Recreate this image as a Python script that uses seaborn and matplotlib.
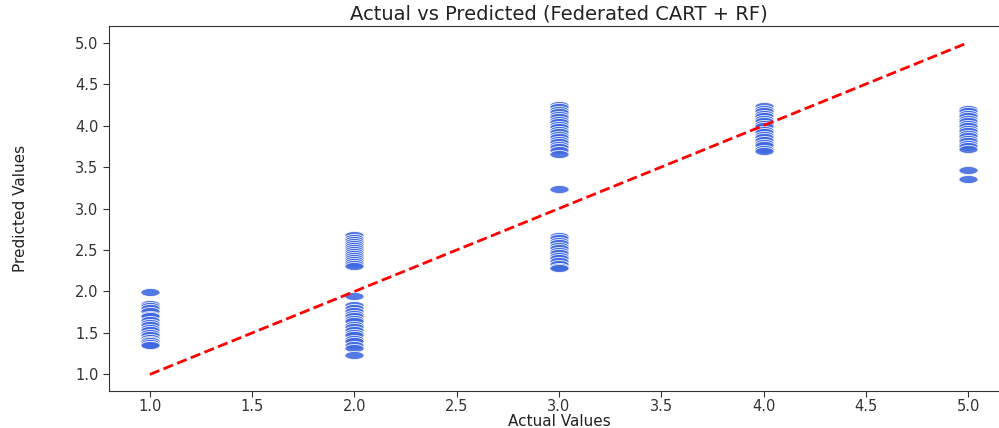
import numpy as np
import pandas as pd
import seaborn as sns
import matplotlib.pyplot as plt
from matplotlib.path import Path

# actual class values and the predicted values
pred_1 = [1.99, 1.85, 1.82, 1.80, 1.76, 1.72, 1.70, 1.66, 1.62, 1.60, 1.56,
          1.54, 1.50, 1.47, 1.44, 1.42, 1.40, 1.38, 1.36, 1.35]
pred_2 = [2.68, 2.65, 2.62, 2.60, 2.57, 2.55, 2.52, 2.50, 2.47, 2.45, 2.43,
          2.40, 2.38, 2.35, 2.33, 2.31,
          1.95, 1.84, 1.80, 1.77, 1.73, 1.70, 1.67, 1.64, 1.60, 1.57, 1.53,
          1.50, 1.47, 1.43, 1.40, 1.36, 1.32, 1.23]
pred_3 = [4.25, 4.22, 4.19, 4.16, 4.13, 4.10, 4.07, 4.04, 4.01, 3.98, 3.95,
          3.92, 3.89, 3.86, 3.83, 3.80, 3.77, 3.74, 3.70, 3.66,
          3.23,
          2.67, 2.64, 2.61, 2.58, 2.55, 2.52, 2.49, 2.46, 2.43, 2.40, 2.37,
          2.33, 2.30, 2.28]
pred_4 = [4.23, 4.20, 4.17, 4.14, 4.11, 4.08, 4.05, 4.02, 3.99, 3.95, 3.92,
          3.89, 3.86, 3.82, 3.79, 3.76, 3.72, 3.69]
pred_5 = [4.20, 4.17, 4.14, 4.11, 4.08, 4.05, 4.02, 3.99, 3.96, 3.93, 3.90,
          3.87, 3.84, 3.81, 3.78, 3.75, 3.72, 3.47, 3.36]

groups = {1.0: pred_1, 2.0: pred_2, 3.0: pred_3, 4.0: pred_4, 5.0: pred_5}
df = pd.DataFrame([(a, p) for a, ps in groups.items() for p in ps],
                  columns=['actual', 'predicted'])

# the reference shows squashed, wide markers
t = np.linspace(0, 2 * np.pi, 40)
ellipse = Path(np.column_stack([np.cos(t), 0.42 * np.sin(t)]), closed=True)

fig = plt.figure(figsize=(9.99, 4.28), dpi=100)
ax = fig.add_axes([0.109, 0.0864, 0.901, 0.8528])

sns.scatterplot(data=df, x='actual', y='predicted', ax=ax,
                color='royalblue', alpha=0.9, marker=ellipse, s=190,
                edgecolor='white', linewidth=0.6)

lo, hi = df['actual'].min(), df['actual'].max()
sns.lineplot(x=[lo, hi], y=[lo, hi], ax=ax, color='red',
             linestyle='--', linewidth=2)

ax.set_xlim(0.8, 5.2)
ax.set_ylim(0.8, 5.2)
ax.set_xticks(np.arange(1.0, 5.01, 0.5))
ax.set_yticks(np.arange(1.0, 5.01, 0.5))
ax.tick_params(labelsize=10.5, colors='#333333', length=4)
ax.tick_params(axis='x', pad=2)
for sp in ax.spines.values():
    sp.set_color('#333333')
ax.spines['right'].set_visible(False)

ax.set_title('Actual vs Predicted (Federated CART + RF)', fontsize=14,
             color='#222222', pad=5)
ax.set_xlabel('Actual Values', fontsize=11, color='#222222', labelpad=0)
ax.set_ylabel('Predicted Values', fontsize=11, color='#222222', labelpad=34,
              family=['Liberation Sans Narrow', 'DejaVu Sans Condensed',
                      'DejaVu Sans'])

fig.savefig('out.png', dpi=100)
